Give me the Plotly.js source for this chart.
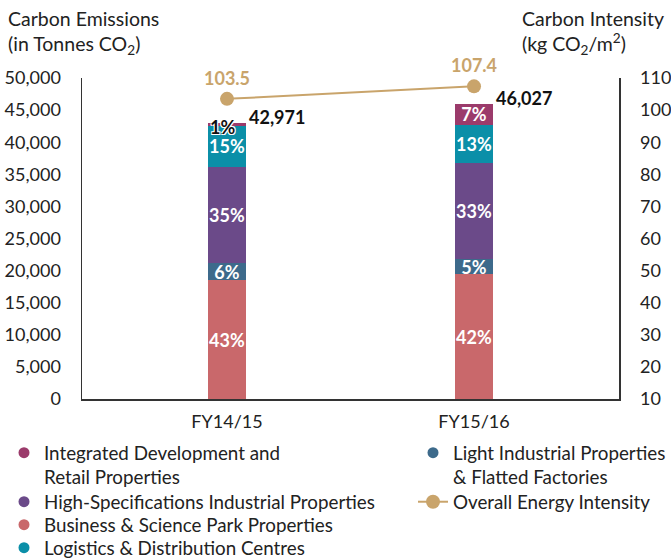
<!DOCTYPE html>
<html>
<head>
<meta charset="utf-8">
<script src="https://cdn.plot.ly/plotly-3.0.1.min.js"></script>
<style>html,body{margin:0;padding:0;background:#fff;}#chart{width:671px;height:559px;}</style>
</head>
<body>
<div id="chart"></div>
<script>
// ---- data ----
const categories = ['FY14/15', 'FY15/16'];
const businessPark = [18480, 19400];
const lightIndustrial = [2700, 2400];
const highSpec = [14960, 15000];
const logistics = [6400, 5900];
const integrated = [431, 3327];
const pctBusiness = ['43%', '42%'];
const pctLight = ['6%', '5%'];
const pctHighSpec = ['35%', '33%'];
const pctLogistics = ['15%', '13%'];
const pctIntegrated = ['1%', '7%'];
const intensity = [103.5, 107.4];
const leftTicks = [0, 5000, 10000, 15000, 20000, 25000, 30000, 35000, 40000, 45000, 50000];
const rightTicks = [10, 20, 30, 40, 50, 60, 70, 80, 90, 100, 110];

const names = {
  integrated: 'Integrated Development and<br>Retail Properties',
  highSpec: 'High-Specifications Industrial Properties',
  business: 'Business & Science Park Properties',
  logistics: 'Logistics & Distribution Centres',
  light: 'Light Industrial Properties<br>& Flatted Factories',
  line: 'Overall Energy Intensity'
};
const colors = {
  integrated: '#9b3b6b',
  highSpec: '#6b4a89',
  business: '#c9686b',
  logistics: '#0b8fa8',
  light: '#3d6a8b',
  line: '#c9a46b'
};

const FONT = 'Lato, "Open Sans", sans-serif';
const barW = 0.154;
function barTrace(y, txt, color) {
  return {
    type: 'bar', x: categories, y: y, width: barW,
    marker: {color: color, line: {width: 0}},
    text: txt, textposition: 'inside', insidetextanchor: 'middle',
    constraintext: 'none', textangle: 0,
    textfont: {color: '#ffffff', size: 18, family: FONT, weight: 700},
    showlegend: false, hoverinfo: 'skip', cliponaxis: false
  };
}
const totals = categories.map((c, i) => businessPark[i] + lightIndustrial[i] + highSpec[i] + logistics[i] + integrated[i]);

const traces = [
  barTrace(businessPark, pctBusiness, colors.business),
  barTrace(lightIndustrial, pctLight, colors.light),
  barTrace(highSpec, pctHighSpec, colors.highSpec),
  barTrace(logistics, pctLogistics, colors.logistics),
  barTrace(integrated, ['', pctIntegrated[1]], colors.integrated),
  {
    type: 'scatter', mode: 'lines+markers', x: categories, y: intensity, yaxis: 'y2',
    line: {color: colors.line, width: 2}, marker: {color: colors.line, size: 14},
    name: names.line, legend: 'legend6', cliponaxis: false
  }
];
// legend entries (circle markers), one legend box each
[['integrated', 'legend'], ['highSpec', 'legend2'], ['business', 'legend3'], ['logistics', 'legend4'], ['light', 'legend5']].forEach(([k, lg]) => {
  traces.push({
    type: 'scatter', mode: 'markers', x: [null], y: [null],
    marker: {color: colors[k], size: 11, symbol: 'circle'},
    name: names[k], legend: lg, hoverinfo: 'skip'
  });
});

const annotations = [];
categories.forEach((c, i) => {
  annotations.push({x: c, y: totals[i], xref: 'x', yref: 'y', text: totals[i].toLocaleString('en-US'),
    showarrow: false, xanchor: 'left', yanchor: 'middle', xshift: 20, yshift: 6,
    font: {family: FONT, size: 18, color: '#111', weight: 700}});
  annotations.push({x: c, y: intensity[i], xref: 'x', yref: 'y2', text: intensity[i].toFixed(1),
    showarrow: false, xanchor: 'center', yanchor: 'middle', yshift: 21,
    font: {family: FONT, size: 18, color: colors.line, weight: 700}});
});
annotations.push({x: categories[0], y: totals[0], xref: 'x', yref: 'y', text: pctIntegrated[0],
  showarrow: false, xanchor: 'center', yanchor: 'middle', xshift: -4, yshift: -4,
  font: {family: FONT, size: 18, color: '#111', weight: 700,
    shadow: '-1px -1px 0 #fff, 1px -1px 0 #fff, -1px 1px 0 #fff, 1px 1px 0 #fff'}});

function titleBlock(text, xPx, yTopPx) {
  return {xref: 'paper', yref: 'paper', x: (xPx - 82) / 537, y: 1 + (78 - yTopPx) / 321,
    xanchor: 'left', yanchor: 'top', align: 'left', showarrow: false,
    text: text, font: {family: FONT, size: 19.5, color: '#222'}};
}
annotations.push(titleBlock('Carbon Emissions<br>(in Tonnes CO<sub>2</sub>)', 6, 5));
annotations.push(titleBlock('Carbon Intensity<br>(kg CO<sub>2</sub>/m<sup>2</sup>)', 520, 5));

function legendAt(xPx, firstLineCenterPx) {
  return {
    xref: 'container', yref: 'container', xanchor: 'left', yanchor: 'top',
    x: xPx / 671, y: 1 - (firstLineCenterPx - 19) / 559, orientation: 'v', valign: 'top',
    font: {family: FONT, size: 18.8, color: '#222'}, bgcolor: 'rgba(0,0,0,0)',
    borderwidth: 0, tracegroupgap: 0, itemclick: false
  };
}

const layout = {
  width: 671, height: 559,
  margin: {l: 82, r: 52, t: 78, b: 160, pad: 0, autoexpand: false},
  paper_bgcolor: '#fff', plot_bgcolor: '#fff',
  font: {family: FONT, size: 18, color: '#222'},
  barmode: 'stack',
  xaxis: {type: 'category', range: [-0.587, 1.587], showline: true, linecolor: '#333', linewidth: 1.5,
    ticks: '', showgrid: false, zeroline: false, ticklabelstandoff: 6, tickfont: {size: 18, color: '#222'}},
  yaxis: {range: [0, 50000], tickvals: leftTicks, tickformat: ',d', showline: true, linecolor: '#333', linewidth: 1.5,
    ticks: 'outside', ticklen: 16, tickcolor: 'rgba(0,0,0,0)', showgrid: false, zeroline: false,
    tickfont: {size: 18, color: '#222'}},
  yaxis2: {overlaying: 'y', side: 'right', range: [10, 110], tickvals: rightTicks, showline: true, linecolor: '#333', linewidth: 1.5,
    ticks: 'outside', ticklen: 16, tickcolor: 'rgba(0,0,0,0)', showgrid: false, zeroline: false,
    tickfont: {size: 18, color: '#222'}},
  legend: legendAt(4, 453),
  legend2: legendAt(4, 502),
  legend3: legendAt(4, 525),
  legend4: legendAt(4, 548),
  legend5: legendAt(413, 453),
  legend6: legendAt(413, 502),
  annotations: annotations,
  showlegend: true
};
Plotly.newPlot('chart', traces, layout, {staticPlot: true, displayModeBar: false});
</script>
</body>
</html>
